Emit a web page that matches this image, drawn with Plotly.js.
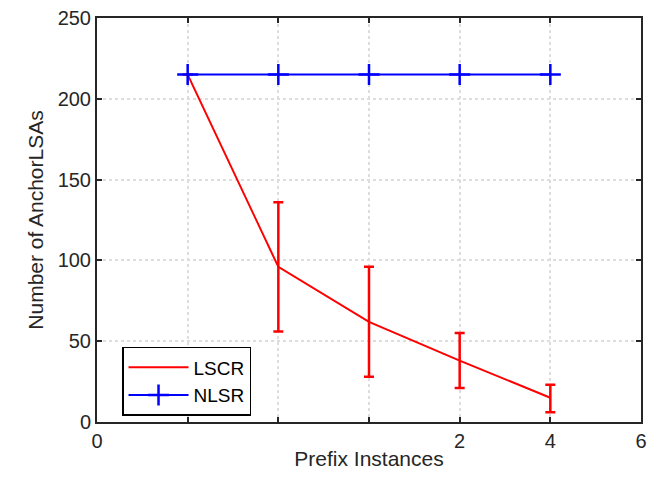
<!DOCTYPE html>
<html><head><meta charset="utf-8">
<script src="https://cdn.plot.ly/plotly-3.0.1.min.js"></script>
<style>html,body{margin:0;padding:0;background:#fff}</style>
</head><body><div id="chart" style="width:654px;height:477px"></div>
<script>
const xPos = [1, 2, 3, 4, 5];
const lscr = [215, 96, 62, 38, 15];
const lscrErrPlus = [0, 40, 34, 17, 8];
const lscrErrMinus = [0, 40, 34, 17, 9];
const nlsr = [215, 215, 215, 215, 215];
const tickVals = [0, 1, 2, 3, 4, 5, 6];
const tickText = ["0", "", "", "", "2", "4", "6"];

const fam = "Liberation Sans, Arial, sans-serif";
const traces = [
  {x: xPos, y: lscr, name: "LSCR", type: "scatter", mode: "lines",
   line: {color: "#ff0000", width: 2},
   error_y: {type: "data", symmetric: false, array: lscrErrPlus, arrayminus: lscrErrMinus,
             color: "#ff0000", thickness: 2.5, width: 5}},
  {x: xPos, y: nlsr, name: "NLSR", type: "scatter", mode: "lines+markers",
   line: {color: "#0000ff", width: 2},
   marker: {symbol: "cross-thin", size: 15, line: {color: "#0000ff", width: 2.5}, color: "#0000ff"}}
];
const axisCommon = {
  showline: true, mirror: "ticks", linecolor: "#262626", linewidth: 2,
  ticks: "inside", ticklen: 5, tickwidth: 1.5, tickcolor: "#262626",
  showgrid: true, gridcolor: "#dddddd", griddash: "dot", gridwidth: 1.5,
  zeroline: false, tickfont: {family: fam, size: 20, color: "#262626"}
};
const layout = {
  width: 654, height: 477,
  margin: {l: 97, r: 13, t: 18, b: 55},
  paper_bgcolor: "#fff", plot_bgcolor: "#fff",
  showlegend: true,
  legend: {x: 0.046, y: 0.186, xanchor: "left", yanchor: "top",
           bgcolor: "#fff", bordercolor: "#000", borderwidth: 1.5,
           font: {family: fam, size: 19, color: "#000"},
           tracegroupgap: 0, itemwidth: 60},
  xaxis: Object.assign({}, axisCommon, {range: [0, 6], tickmode: "array", tickvals: tickVals, ticktext: tickText,
    title: {text: "Prefix Instances", font: {family: fam, size: 21, color: "#262626"}, standoff: 0}}),
  yaxis: Object.assign({}, axisCommon, {range: [0, 250], tickmode: "array", tickvals: [0, 50, 100, 150, 200, 250],
    title: {text: "Number of AnchorLSAs", font: {family: fam, size: 21, color: "#262626"}, standoff: 8}})
};
Plotly.newPlot("chart", traces, layout, {displayModeBar: false});
</script></body></html>
